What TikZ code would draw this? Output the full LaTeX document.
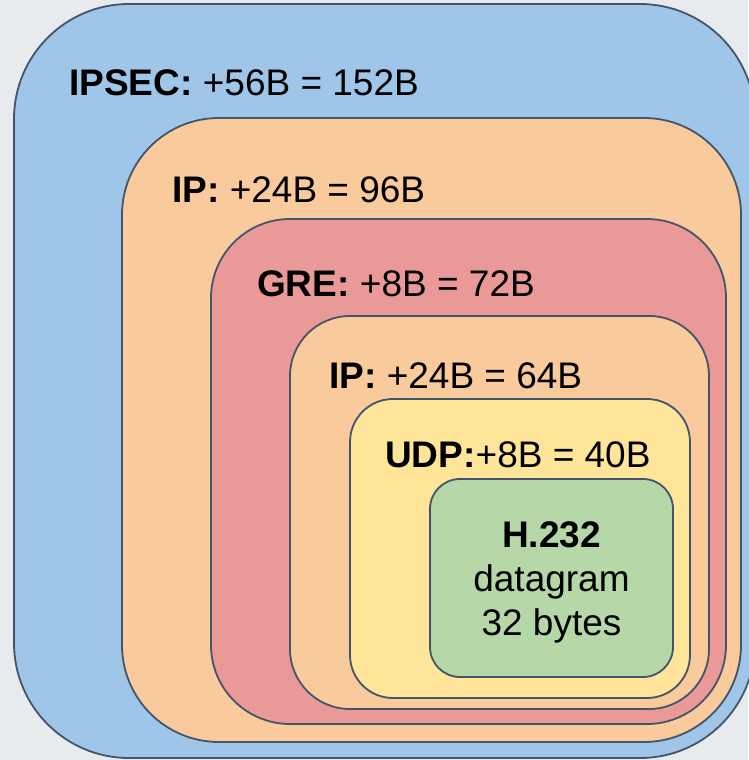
\documentclass[tikz,border=0pt]{standalone}
\usepackage{fontspec}
\setmainfont{Liberation Sans}
\usetikzlibrary{positioning}
\definecolor{bgcol}{HTML}{E8EBED}
\definecolor{edgecol}{HTML}{44546A}
\definecolor{ipseccol}{HTML}{9FC5E8}
\definecolor{ipcol}{HTML}{F9CB9C}
\definecolor{grecol}{HTML}{EA9999}
\definecolor{udpcol}{HTML}{FFE599}
\definecolor{datacol}{HTML}{B6D7A8}
\tikzstyle{layer} = [draw=edgecol, line width=1.8pt]
\tikzstyle{headtext} = [anchor=base west, inner sep=0pt, font=\fontsize{37}{44}\selectfont]
\tikzstyle{bodytext} = [align=center, inner sep=0pt, font=\fontsize{37}{44}\selectfont]

\begin{document}
\begin{tikzpicture}[x=1pt, y=-1pt]
\fill[bgcol] (0,0) rectangle (748,760);
\useasboundingbox (0,0) rectangle (748,760);
% nested layers, outside in
\draw[layer, fill=ipseccol, rounded corners=115] (14,4) rectangle (755,758);
\draw[layer, fill=ipcol, rounded corners=97] (122,118) rectangle (741,742);
\draw[layer, fill=grecol, rounded corners=79] (211,219) rectangle (726,724);
\draw[layer, fill=ipcol, rounded corners=60] (290,316) rectangle (709,709);
\draw[layer, fill=udpcol, rounded corners=43] (350,399) rectangle (690,698);
\draw[layer, fill=datacol, rounded corners=30] (430,479) rectangle (673,677);
% headers
\node (ipsec) [headtext] at (69,95) {\textbf{IPSEC:} +56B = 152B};
\node (ipout) [headtext] at (172,202) {\textbf{IP:} +24B = 96B};
\node (gre) [headtext] at (257,296) {\textbf{GRE:} +8B = 72B};
\node (ipin) [headtext] at (329,388) {\textbf{IP:} +24B = 64B};
\node (udp) [headtext] at (385,467) {\textbf{UDP:}+8B = 40B};
\node (payload) [bodytext, anchor=base] at (551.5,635) {\textbf{H.232}\\datagram\\32 bytes};
\end{tikzpicture}
\end{document}
